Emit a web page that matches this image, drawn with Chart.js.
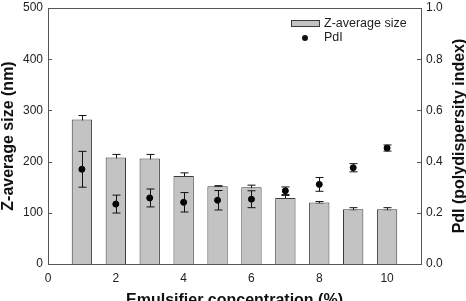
<!DOCTYPE html>
<html>
<head>
<meta charset="utf-8">
<script src="https://cdn.jsdelivr.net/npm/chart.js@4"></script>
<style>
    html, body { margin: 0; padding: 0; background: #fff; overflow: hidden; }
    #wrap { width: 466px; height: 301px; }
</style>
</head>
<body>
<div id="wrap"><canvas id="chart" width="466" height="301"></canvas></div>
<script>
// Emulsifier concentration (%)
const concentration = [1, 2, 3, 4, 5, 6, 7, 8, 9, 10];
// Z-average size (nm) and its error
const zSize = [282, 208, 206, 172, 152, 150, 129, 120, 107, 107];
const zErr = [8, 6, 8, 6, 1, 4, 5, 2, 3, 3];
// Polydispersity index and its error
const pdi = [0.37, 0.234, 0.258, 0.241, 0.249, 0.253, 0.286, 0.311, 0.376, 0.453];
const pdiErr = [0.07, 0.035, 0.035, 0.038, 0.038, 0.033, 0.015, 0.027, 0.016, 0.012];

const xTicks = [0, 2, 4, 6, 8, 10];
const legendLabels = ['Z-average size', 'PdI'];
const leftTitle = 'Z-average size (nm)';
const rightTitle = 'PdI (polydispersity index)';
const bottomTitle = 'Emulsifier concentration (%)';

const axisColor = '#555555';
const textColor = '#222222';
const barFill = '#c3c3c3';
const barEdge = '#3a3a3a';
const tickFont = { family: 'Liberation Sans', size: 12 };
const titleFont = { family: 'Liberation Sans', size: 16, weight: 'bold', lineHeight: 1 };

function drawErrors(ctx, xScale, yScale, values, errs, color) {
    ctx.save();
    ctx.strokeStyle = color;
    ctx.lineWidth = 1;
    values.forEach((v, i) => {
        const x = Math.round(xScale.getPixelForValue(concentration[i])) + 0.5;
        const yTop = yScale.getPixelForValue(v + errs[i]);
        const yBot = yScale.getPixelForValue(v - errs[i]);
        ctx.beginPath();
        ctx.moveTo(x, yTop);
        ctx.lineTo(x, yBot);
        ctx.moveTo(x - 4, yTop);
        ctx.lineTo(x + 4, yTop);
        ctx.moveTo(x - 4, yBot);
        ctx.lineTo(x + 4, yBot);
        ctx.stroke();
    });
    ctx.restore();
}

const figurePlugin = {
    id: 'figure',
    beforeDatasetsDraw(chart) {
        // bar error bars go under the bars, so only the upper half shows
        drawErrors(chart.ctx, chart.scales.x, chart.scales.y, zSize, zErr, '#111');
    },
    afterDatasetsDraw(chart) {
        drawErrors(chart.ctx, chart.scales.x, chart.scales.y1, pdi, pdiErr, '#111');
    },
    afterDraw(chart) {
        const ctx = chart.ctx;
        const { left, right, top, bottom } = chart.chartArea;
        ctx.save();

        // frame top line
        ctx.strokeStyle = axisColor;
        ctx.lineWidth = 1;
        ctx.beginPath();
        ctx.moveTo(left, Math.round(top) + 0.5);
        ctx.lineTo(right, Math.round(top) + 0.5);
        ctx.stroke();

        // inward tick marks on both y axes
        chart.scales.y.ticks.forEach(t => {
            const y = Math.round(chart.scales.y.getPixelForValue(t.value)) + 0.5;
            ctx.beginPath();
            ctx.moveTo(left, y);
            ctx.lineTo(left + 4, y);
            ctx.stroke();
        });
        chart.scales.y1.ticks.forEach(t => {
            const y = Math.round(chart.scales.y1.getPixelForValue(t.value)) + 0.5;
            ctx.beginPath();
            ctx.moveTo(right - 4, y);
            ctx.lineTo(right, y);
            ctx.stroke();
        });

        // right axis title, reading bottom to top
        ctx.fillStyle = '#111';
        ctx.font = 'bold 16px "Liberation Sans"';
        ctx.textAlign = 'center';
        ctx.textBaseline = 'middle';
        ctx.translate(460, (top + bottom) / 2);
        ctx.rotate(-Math.PI / 2);
        ctx.fillText(rightTitle, 0, 0);
        ctx.setTransform(1, 0, 0, 1, 0, 0);

        // legend
        ctx.fillStyle = barFill;
        ctx.fillRect(291, 20.5, 28, 6);
        ctx.strokeStyle = barEdge;
        ctx.strokeRect(291.5, 20.5, 28, 6);
        ctx.fillStyle = '#111';
        ctx.beginPath();
        ctx.arc(305, 38, 3, 0, Math.PI * 2);
        ctx.fill();
        ctx.fillStyle = textColor;
        ctx.font = '12.5px "Liberation Sans"';
        ctx.textAlign = 'left';
        ctx.fillText(legendLabels[0], 324, 24);
        ctx.fillText(legendLabels[1], 324, 38);
        ctx.restore();
    }
};

function fitY(width) {
    return s => {
        s.width = width;
        s.paddingTop = 0;
        s.paddingBottom = 0;
    };
}

new Chart(document.getElementById('chart'), {
    type: 'bar',
    data: {
        datasets: [
            {
                type: 'scatter',
                label: legendLabels[1],
                data: concentration.map((c, i) => ({ x: c, y: pdi[i] })),
                yAxisID: 'y1',
                backgroundColor: '#000',
                borderColor: '#000',
                pointRadius: 3,
                order: 0,
            },
            {
                type: 'bar',
                label: legendLabels[0],
                data: concentration.map((c, i) => ({ x: c, y: zSize[i] })),
                yAxisID: 'y',
                backgroundColor: barFill,
                borderColor: barEdge,
                borderWidth: 1,
                barPercentage: 0.6,
                categoryPercentage: 1,
                order: 1,
            },
        ],
    },
    options: {
        responsive: false,
        animation: false,
        layout: { padding: { top: 8, left: 0, right: 0, bottom: 0 } },
        plugins: { legend: { display: false }, tooltip: { enabled: false } },
        scales: {
            x: {
                type: 'linear',
                offset: false,
                min: 0,
                max: 11,
                afterBuildTicks: s => { s.ticks = xTicks.map(v => ({ value: v })); },
                afterFit: s => { s.height = 37; s.paddingLeft = 0; s.paddingRight = 0; },
                grid: { display: false, drawTicks: false },
                border: { display: true, color: axisColor },
                ticks: { font: tickFont, color: textColor, padding: 7, maxRotation: 0 },
                title: { display: true, text: bottomTitle, font: titleFont, color: '#111', padding: { top: 0, bottom: -8 } },
            },
            y: {
                position: 'left',
                min: 0,
                max: 500,
                afterFit: fitY(48),
                grid: { display: false, drawTicks: false },
                border: { display: true, color: axisColor },
                ticks: { stepSize: 100, font: tickFont, color: textColor, padding: 5 },
                title: { display: true, text: leftTitle, font: titleFont, color: '#111', padding: { top: 1, bottom: 0 } },
            },
            y1: {
                position: 'right',
                min: 0,
                max: 1,
                afterFit: fitY(45),
                grid: { display: false, drawTicks: false },
                border: { display: true, color: axisColor },
                ticks: { stepSize: 0.2, font: tickFont, color: textColor, padding: 5, callback: v => v.toFixed(1) },
            },
        },
    },
    plugins: [figurePlugin],
});
</script>
</body>
</html>
